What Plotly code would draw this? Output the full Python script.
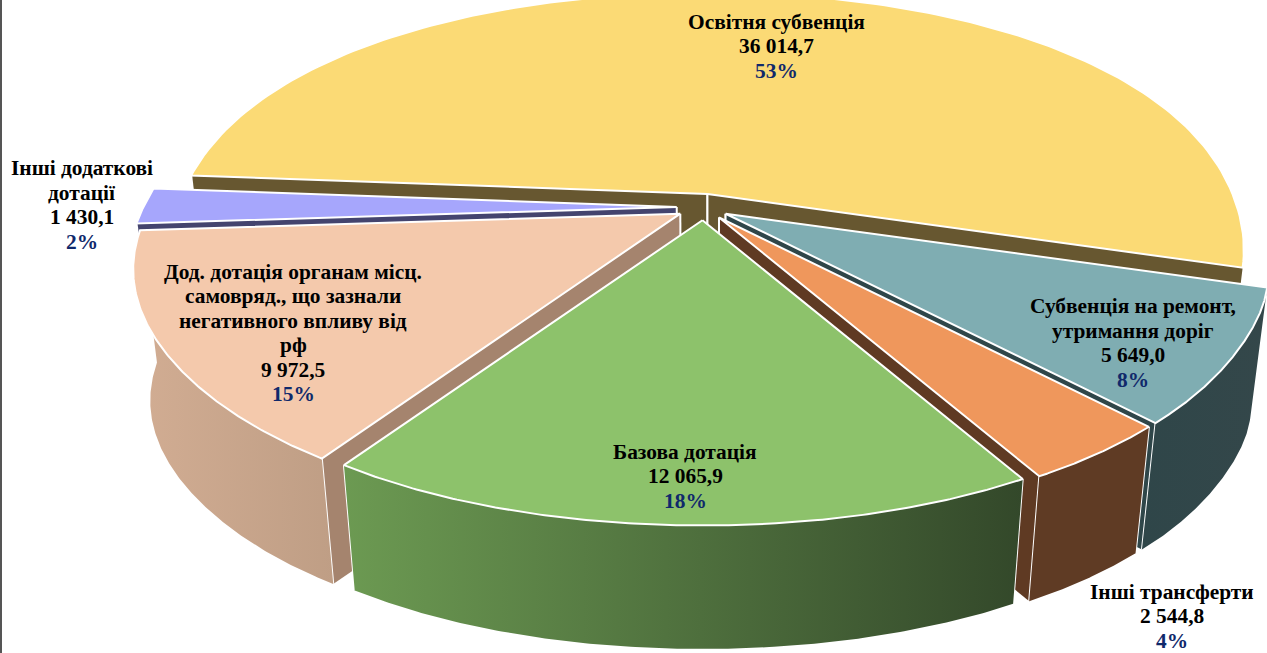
import numpy as np
import plotly.graph_objects as go

# ---- data ----
names = ["Освітня субвенція", "Субвенція на ремонт,<br>утримання доріг", "Інші трансферти",
         "Базова дотація", "Дод. дотація органам місц.<br>самовряд., що зазнали<br>негативного впливу від<br>рф",
         "Інші додаткові<br>дотації"]
values = [36014.7, 5649.0, 2544.8, 12065.9, 9972.5, 1430.1]
top_colors = ["#FBDA75", "#7FADB2", "#EF975C", "#8DC26B", "#F4C9AC", "#A6A6FC"]
radial_colors = ["#675730", "#2F4649", "#5F3A23", "#3C5230", "#A5846E", "#44446E"]
rim_scales = [
    ["#675730", "#675730"], ["#2F4649", "#34474A"], ["#5F3B24", "#5F3B24"],
    ["#6C9A52", "#33482A"], ["#D2AD93", "#BF9E85"], None,
]
label_x = [776, 1133, 1172, 685, 293, 82]
label_y = [46, 343, 616, 476, 333, 205]
draw_order = [0, 5, 1, 4, 2, 3]
left_bulge = [0.0, 0.0, 0.0, 0.02, 0.02, 0.02]
right_bulge = [0.0, 0.012, 0.0, 0.0, 0.0, 0.0]
# how far each slice's two radial faces are drawn down (start face, end face)
face_depth = [(1, 1), (1, 1), (1, 1), (1, 1), (1, 0), (0.25, 0)]

# ---- projection constants (tilted pie with perspective) ----
START = 274.0
CX, CY = 703.0, 207.0
AX, KX = 525.0, 0.205
BY_FRONT, KY_FRONT = 265.0, 0.132
BY_BACK, KY_BACK = 270.0, 0.34
EXPLODE = 0.05
DEPTH, SHRINK = 133.0, 0.97
LINE_STEP = 24.5
FONT_SIZE = 21.4


def warp(t):
    return t + 1.2 * np.exp(-((t - 213.0) / 30.0) ** 2) + 0.7 * np.exp(-((t - 149.0) / 8.0) ** 2)


def project(t, lb, rb):
    t = np.mod(np.asarray(t, dtype=float), 360)
    r = np.radians(warp(t))
    c = np.cos(r)
    bulge = 1.0 + lb * np.exp(-((t - 258.0) / 25.0) ** 2) + rb * np.exp(-((t - 105.0) / 13.0) ** 2)
    y = np.where(c > 0, -BY_BACK * c / (1.0 + KY_BACK * c), -BY_FRONT * c / (1.0 + KY_FRONT * c))
    return AX * np.sin(r) / (1.0 + KX * c) * bulge, y


def drop(x, y, frac=1.0):
    s = 1 - (1 - SHRINK) * frac
    return CX + (x - CX) * s, CY + (y - CY) * s + DEPTH * frac


def fmt(v):
    s = f"{v:,.1f}"
    return s.replace(",", " ").replace(".", ",")


total = sum(values)
angles = np.cumsum([0] + [v / total * 360 for v in values]) + START

fig = go.Figure()


def poly(x, y, color, scale=None):
    kw = dict(x=x, y=y, mode="lines", line=dict(width=0), fill="toself", hoverinfo="skip",
              showlegend=False)
    if scale is not None:
        kw["fillcolor"] = "rgba(0,0,0,0)"
        kw["fillgradient"] = dict(type="horizontal",
                                  colorscale=[[i / (len(scale) - 1), c] for i, c in enumerate(scale)])
    else:
        kw["fillcolor"] = color
    fig.add_trace(go.Scatter(**kw))


def edge(x, y, w=2):
    fig.add_trace(go.Scatter(x=x, y=y, mode="lines", line=dict(color="white", width=w),
                             hoverinfo="skip", showlegend=False))


for i in draw_order:
    a0, a1 = angles[i], angles[i + 1]
    mid = (a0 + a1) / 2
    ox = CX + EXPLODE * AX * np.sin(np.radians(mid))
    oy = CY - EXPLODE * BY_FRONT * np.cos(np.radians(mid))
    ts = np.linspace(a0, a1, 160)
    dx, dy = project(ts, left_bulge[i], right_bulge[i])
    rx, ry = ox + dx, oy + dy

    # radial faces
    for t_end, frac in zip((0, -1), face_depth[i]):
        if frac == 0:
            continue
        bx, by = drop(np.array([ox, rx[t_end]]), np.array([oy, ry[t_end]]), frac)
        poly([ox, rx[t_end], bx[1], bx[0]], [oy, ry[t_end], by[1], by[0]], radial_colors[i])
        edge([rx[t_end], bx[1]], [ry[t_end], by[1]])
        edge([ox, bx[0]], [oy, by[0]])

    # rim face: only the part turned towards the viewer
    norm = np.mod(ts, 360)
    vis = (norm >= 90) & (norm <= 270)
    if vis.any() and rim_scales[i] is not None:
        vx, vy = rx[vis], ry[vis]
        bx, by = drop(vx, vy)
        poly(np.r_[vx, bx[::-1]], np.r_[vy, by[::-1]], None, scale=rim_scales[i])

    # top face
    fig.add_trace(go.Scatter(x=np.r_[ox, rx, ox], y=np.r_[oy, ry, oy], mode="lines", fill="toself",
                             fillcolor=top_colors[i], line=dict(color="white", width=2),
                             showlegend=False, name=names[i].replace("<br>", " "),
                             hovertemplate=f"{fmt(values[i])}<extra></extra>"))

for i in range(len(values)):
    pct = round(values[i] / total * 100)
    lines = [(t, "black") for t in names[i].split("<br>")]
    lines += [(fmt(values[i]), "black"), (f"{pct}%", "#10296B")]
    for k, (txt, col) in enumerate(lines):
        fig.add_annotation(
            x=label_x[i], y=label_y[i] + (k - (len(lines) - 1) / 2) * LINE_STEP,
            xref="x", yref="y", showarrow=False, align="center", text=f"<b>{txt}</b>",
            font=dict(family="Liberation Serif", size=FONT_SIZE, color=col),
        )

fig.add_shape(type="rect", xref="x", yref="y", x0=0, x1=2, y0=0, y1=653,
              fillcolor="#555555", line=dict(width=0))
fig.update_layout(
    width=1267, height=653, margin=dict(l=0, r=0, t=0, b=0),
    paper_bgcolor="white", plot_bgcolor="white",
    xaxis=dict(range=[0, 1267], visible=False, fixedrange=True),
    yaxis=dict(range=[653, 0], visible=False, fixedrange=True),
    showlegend=False,
)
fig.write_html("out.html", config={"displayModeBar": False},
               post_script="document.body.style.margin='0';document.body.style.overflow='hidden';")
